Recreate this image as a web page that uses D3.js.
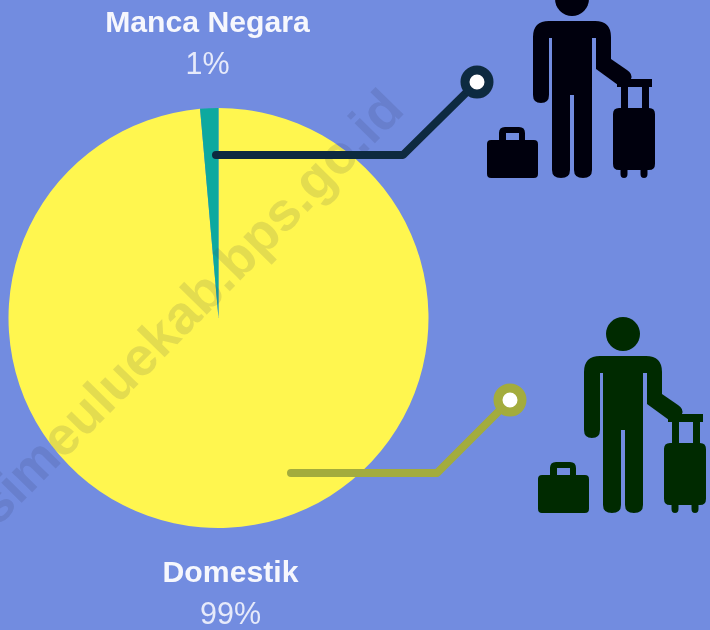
<!DOCTYPE html>
<html><head><meta charset="utf-8">
<script src="https://cdnjs.cloudflare.com/ajax/libs/d3/7.8.5/d3.min.js"></script>
<style>html,body{margin:0;padding:0;background:#728ce0;overflow:hidden}svg{display:block}text{font-family:"Liberation Sans",Arial,sans-serif}</style>
</head><body><svg id="c" width="710" height="630"></svg>
<script>
const categories = ["Domestik", "Manca Negara"];
const shares = [98.6, 1.4];
const shareLabels = ["99%", "1%"];
const sliceColors = ["#fff650", "#11a99f"];
const leaderColors = ["#a3ac3c", "#11293f"];
const iconColors = ["#012a04", "#02020c"];

const W = 710, H = 630, cx = 218.5, cy = 318, R = 210;
const svg = d3.select("#c");
svg.append("defs").append("filter").attr("id","soft").append("feGaussianBlur").attr("stdDeviation",0.7);
const root = svg.append("g").attr("filter","url(#soft)");
root.append("rect").attr("width",W).attr("height",H).attr("fill","#728ce0");

const pie = d3.pie().sort(null).value(d=>d);
const arc = d3.arc().innerRadius(0).outerRadius(R);
root.append("g").attr("transform",`translate(${cx},${cy})`)
  .selectAll("path").data(pie(shares)).join("path")
  .attr("d",arc).attr("fill",(d,i)=>sliceColors[i]);

// watermark
root.append("text").attr("transform","translate(-2,527) rotate(-45.5)")
  .attr("font-size",54).attr("font-weight",700).attr("fill","#2a2f50").attr("fill-opacity",0.13)
  .text("simeuluekab.bps.go.id");

// leaders
const line = d3.line();
const leaders = [
  {pts:[[291,473],[437,473],[510,400]], c:leaderColors[0]},
  {pts:[[216,155],[403,155],[477,82]], c:leaderColors[1]}
];
leaders.forEach(l=>{
  root.append("path").attr("d",line(l.pts)).attr("fill","none").attr("stroke",l.c)
    .attr("stroke-width",8).attr("stroke-linecap","round").attr("stroke-linejoin","round");
  const e=l.pts[2];
  root.append("circle").attr("cx",e[0]).attr("cy",e[1]).attr("r",12).attr("fill","#fff")
    .attr("stroke",l.c).attr("stroke-width",9);
});

// traveller icon
const person = "M533 37Q533 21 549 21H595Q611 21 611 37V59L627 70Q633 74 631 79L618 85L596 69V38H592V170Q592 178 583 178Q574 178 574 170V95H570V170Q570 178 561 178Q552 178 552 170V38H549V95Q549 103 541 103Q533 103 533 95Z";
const handle = "M617 79H652V87H649V110H642V87H628V110H621V87H617Z";
const caseBody = "M619 108H649Q655 108 655 114V164Q655 170 649 170H647.5V174Q647.5 178 644 178Q640.5 178 640.5 174V170H627.5V174Q627.5 178 624 178Q620.5 178 620.5 174V170H619Q613 170 613 164V114Q613 108 619 108Z";
const bag = "M491 140H499V133Q499 127 505 127H519Q525 127 525 133V140H534Q538 140 538 144V174Q538 178 534 178H491Q487 178 487 174V144Q487 140 491 140ZM506 133V140H519V133Z";
function icon(dx,dy,fill){
  const g=root.append("g").attr("transform",`translate(${dx},${dy})`).attr("fill",fill);
  g.append("circle").attr("cx",572).attr("cy",-1).attr("r",17);
  [person,handle,caseBody].forEach(d=>g.append("path").attr("d",d));
  g.append("path").attr("d",bag).attr("fill-rule","evenodd");
}
icon(0,0,iconColors[1]);
icon(51,335,iconColors[0]);

// labels
function label(x,y,name,val){
  root.append("text").attr("x",x).attr("y",y).attr("text-anchor","middle").attr("fill","#f6f7fd")
    .attr("font-size",30.2).attr("font-weight",700).text(name);
  root.append("text").attr("x",x).attr("y",y+42).attr("text-anchor","middle").attr("fill","#e6eafa")
    .attr("font-size",30.5).text(val);
}
label(207.5,32,categories[1],shareLabels[1]);
label(230.5,582,categories[0],shareLabels[0]);
</script></body></html>
